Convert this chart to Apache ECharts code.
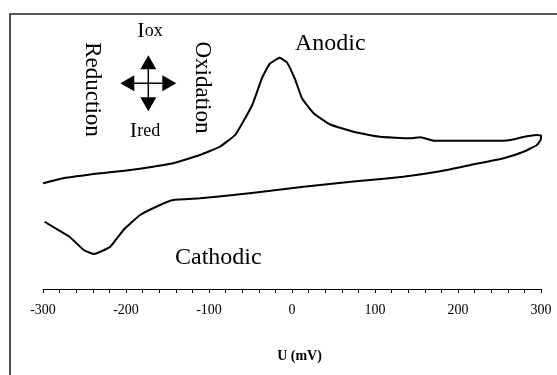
<!DOCTYPE html>
<html>
<head>
<meta charset="utf-8">
<script src="https://cdn.jsdelivr.net/npm/echarts@6/dist/echarts.min.js"></script>
<style>
  html, body { margin: 0; padding: 0; background: #ffffff; }
  #chart { width: 557px; height: 375px; }
</style>
</head>
<body>
<div id="chart"></div>
<script>
// Cyclic voltammogram: potential U (mV) vs. current (arbitrary units)
// Forward (anodic) sweep, -300 -> 300 mV
var anodicU = [-300, -276, -231, -195, -143, -111, -87, -68, -48, -36, -27, -15, -6, 4, 12, 26, 46, 74, 106, 142, 155, 171, 215, 255, 263, 280, 295, 300];
var anodicI = [42.3, 44.3, 46.3, 47.6, 50.3, 53.6, 56.9, 61.8, 73.5, 84.5, 90.0, 92.5, 90.6, 83.6, 76.3, 70.3, 65.8, 62.9, 60.9, 60.3, 60.7, 59.3, 59.3, 59.3, 59.6, 60.9, 61.6, 61.4];
// Reverse (cathodic) sweep, 300 -> -300 mV
var cathodicU = [300, 295, 279, 255, 215, 175, 134, 94, 54, 14, -26, -71, -111, -143, -159, -183, -203, -219, -231, -239, -251, -268, -286, -298];
var cathodicI = [60.0, 57.6, 54.9, 52.3, 49.6, 46.9, 44.9, 43.6, 42.3, 40.9, 39.3, 37.6, 36.3, 35.6, 33.6, 29.6, 23.6, 16.9, 14.9, 14.0, 15.6, 20.9, 24.5, 26.9];
// Potential axis
var uTicks = [-300, -200, -100, 0, 100, 200, 300];

var serif = '"Liberation Serif", "Times New Roman", serif';

function pairs(xs, ys) {
  var out = [];
  for (var i = 0; i < xs.length; i++) out.push([xs[i], ys[i]]);
  return out;
}
var loop = pairs(anodicU, anodicI).concat(pairs(cathodicU, cathodicI));

var chart = echarts.init(document.getElementById('chart'), null, { renderer: 'canvas' });

// four-headed arrow (current direction key)
function arrowHead(dx, dy) {
  var L = 14, W = 8, T = 28;
  var tip = [dx * T, dy * T];
  var base = [dx * (T - L), dy * (T - L)];
  var px = -dy, py = dx;
  return {
    type: 'polygon',
    shape: { points: [tip, [base[0] + px * W, base[1] + py * W], [base[0] - px * W, base[1] - py * W]] },
    style: { fill: '#000' }
  };
}

chart.setOption({
  animation: false,
  backgroundColor: '#ffffff',
  grid: { left: 43, right: 16, top: 39, bottom: 86, containLabel: false },
  xAxis: {
    type: 'value',
    min: uTicks[0],
    max: uTicks[uTicks.length - 1],
    interval: 100,
    name: 'U (mV)',
    nameLocation: 'middle',
    nameGap: 60,
    nameTextStyle: { fontFamily: serif, fontSize: 14, fontWeight: 'bold', color: '#000', padding: [0, 0, 0, 15] },
    axisLine: { onZero: false, lineStyle: { color: '#000', width: 1.2 } },
    axisTick: { show: true, length: 4, lineStyle: { color: '#000', width: 1 } },
    minorTick: { show: true, splitNumber: 5, length: 4, lineStyle: { color: '#000', width: 1 } },
    axisLabel: { fontFamily: serif, fontSize: 14, color: '#000', margin: 14 },
    splitLine: { show: false },
    minorSplitLine: { show: false }
  },
  yAxis: {
    type: 'value',
    min: 0,
    max: 100,
    show: false
  },
  series: [{
    type: 'line',
    data: loop,
    showSymbol: false,
    smooth: 0.12,
    lineStyle: { color: '#000', width: 2 },
    z: 5
  }],
  graphic: [
    {
      type: 'rect',
      shape: { x: 10, y: 14, width: 600, height: 420 },
      style: { fill: null, stroke: '#222', lineWidth: 1.6 },
      silent: true
    },
    {
      type: 'text', x: 295, y: 44,
      style: { text: 'Anodic', fontFamily: serif, fontSize: 24, fill: '#000', align: 'left', verticalAlign: 'middle' }
    },
    {
      type: 'text', x: 175, y: 258,
      style: { text: 'Cathodic', fontFamily: serif, fontSize: 24, fill: '#000', align: 'left', verticalAlign: 'middle' }
    },
    {
      type: 'text', x: 92.5, y: 89.5, rotation: -Math.PI / 2,
      style: { text: 'Reduction', fontFamily: serif, fontSize: 23, fill: '#000', align: 'center', verticalAlign: 'middle' }
    },
    {
      type: 'text', x: 202.5, y: 87.5, rotation: -Math.PI / 2,
      style: { text: 'Oxidation', fontFamily: serif, fontSize: 23, fill: '#000', align: 'center', verticalAlign: 'middle' }
    },
    {
      type: 'text', x: 150, y: 42,
      style: {
        text: '{a|I}{b|ox}', align: 'center', verticalAlign: 'bottom',
        rich: {
          a: { fontFamily: serif, fontSize: 22, fill: '#000' },
          b: { fontFamily: serif, fontSize: 18, fill: '#000' }
        }
      }
    },
    {
      type: 'text', x: 145, y: 142.5,
      style: {
        text: '{a|I}{b|red}', align: 'center', verticalAlign: 'bottom',
        rich: {
          a: { fontFamily: serif, fontSize: 22, fill: '#000' },
          b: { fontFamily: serif, fontSize: 18, fill: '#000' }
        }
      }
    },
    {
      type: 'group', x: 148.3, y: 83.3,
      children: [
        { type: 'line', shape: { x1: -18, y1: 0, x2: 18, y2: 0 }, style: { stroke: '#000', lineWidth: 1.5 } },
        { type: 'line', shape: { x1: 0, y1: -18, x2: 0, y2: 18 }, style: { stroke: '#000', lineWidth: 1.5 } },
        arrowHead(1, 0), arrowHead(-1, 0), arrowHead(0, 1), arrowHead(0, -1)
      ]
    }
  ]
});
</script>
</body>
</html>
